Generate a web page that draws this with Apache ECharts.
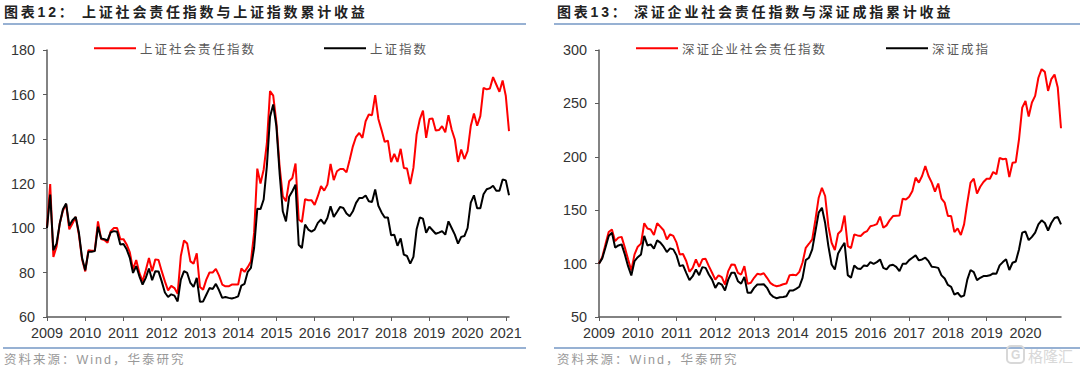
<!DOCTYPE html>
<html>
<head>
<meta charset="utf-8">
<style>
  html, body { margin: 0; background: #fff; }
  #main { width: 1080px; height: 370px; }
  /* zrender has no letterSpacing, the svg text picks it up from css */
  #main text[style*="CJK"] { letter-spacing: 2px; }
  #main text[style*="bold"] { letter-spacing: 2.8px; }
  #main text[style*="15px"] { letter-spacing: 0; }
</style>
</head>
<body>
<div id="main"></div>
<script src="https://cdn.jsdelivr.net/npm/echarts@6/dist/echarts.min.js"></script>
<script>
// 图表12
var shSocial = [100,119.7,87,91.6,102,107.7,110.7,99.4,102,105,97,86,80.5,90,89.8,89.8,103,95,94.6,93.4,98.6,100,100,95,95,92.6,89,81.4,85.6,79.8,76,81,86.5,80.6,85.9,85.6,80.6,76,72,74,73,70.5,87.4,94.4,93,85,84,88.6,73.5,72.3,76.8,80,80,81.6,78.6,74.6,73.8,73.8,74.6,74.6,74.6,81.8,80.3,82.4,85,97.8,126.7,120,126.2,138,161.5,159.5,147.2,127.7,114.3,112,121,122.5,129,103.8,102.7,113,112.5,112.5,110.4,114.3,118.8,116.8,119.5,128.8,121.5,125.5,126.5,126.5,125,130.7,136.7,141,142.7,140.5,148,151,150.7,159.7,149,144,138.7,139.3,129.6,133.3,129.7,135.6,127,126.7,119.8,127,142,148.8,152.8,140.5,149,149.2,143.8,144,145.8,143,150.7,144.3,139.8,129.7,135.3,131,134.5,145.8,151.5,146,150.3,163,162.3,162.7,167.8,164.5,161.2,166.3,159.3,143.5];
var shIndex = [100,115,90,93,102,108.4,111,101,103.5,105,98,86.6,81,89.3,89.3,89.6,100.6,95.3,95,94.4,98,98.6,98.3,92.6,92.8,90.4,86.6,79.8,82.9,78.3,74.6,77.6,81.8,76.5,80.6,80.5,76,71,69,70.2,69.6,67,76.8,80.6,79.8,75.3,73.5,77.6,66.8,67,70,73,72.6,74.9,72,68.6,69,68.6,68.3,68.7,69.3,74.1,74.9,80.3,82.1,91,108.7,108.5,112.8,127.7,150,155.5,145.7,124.7,107.5,103,114,116.5,119.5,92.5,91,101.5,99.3,98.4,99.3,102.3,103.8,101.8,104.5,109.8,105,107.2,109.5,109,106.5,105.3,107.5,111.3,113.5,113.5,114.6,112,111.7,117.3,110,107,104.7,104.7,96.7,97,92,95.3,88,87.4,84,87,99.4,104.7,104.2,97.9,100.6,99,97.4,97.9,98.6,97,103,100,97,93,96,96.4,100,111.4,114.7,108.9,108.9,115.2,117.4,117.9,119,116.7,116.7,121.8,121.4,114.7];
// 图表13
var szSocial = [100,106,118,129.6,132,121,124.3,125,115,104,93.6,108.6,115.8,118.7,137.8,132.8,132,126.8,137.8,134.6,131.2,122.7,127.4,125.9,119.6,108.6,109,102.4,92.3,96,104,97,104,104.5,97.6,91.4,85,89,87.3,80.4,93,99.2,99,91.4,89.8,97.6,81,82,86.7,90.4,89.8,91,86.7,82,79.8,78.8,79.5,80.7,81.3,89.2,89.5,89,92.3,101,114.8,118.6,122.7,141.4,161.7,171,163.3,135,119.5,112.7,128,131,145,116.4,114.5,127.3,126.4,125.8,128.9,130.5,135,135.8,137,144,133.6,135.8,140.8,144.5,144.8,145,160.8,160,162.7,168,180.5,175.8,182,191.4,182,175.8,167.4,175,160.8,157,144.5,144.5,129.5,133,126.7,136.7,157,175.8,179.5,165.5,172,176.4,179.5,179.5,185.8,183.6,199,197.7,198.3,181,194.5,195,216.4,246,252.3,237.7,250.8,257,274,282,279.5,261.7,272.7,277,264.8,226.7];
var szIndex = [100,104.9,115,125.9,129,115,117,118,108.6,97.6,88.9,102.4,106,108.6,125.9,117,118,114,121.8,119.6,115.8,110.8,114.3,113.3,107.7,97.6,98.6,91.4,84.5,88.2,94.5,89.2,96.7,96,89.8,85,77.3,82,80.4,74.8,85,91.4,91.4,83.5,81.3,87.6,72.6,72.6,77.3,80.4,80.4,80.7,77.3,71.6,68.8,67.6,68.5,68.8,69.4,74.8,74.8,76.4,78.3,86.7,103.3,105.5,113.3,130.5,147.7,152.3,138,116.4,99.2,94.5,109.5,114.8,119.5,89.2,86.7,98.3,95.5,95,98.3,97.7,101.4,99.8,101.4,103.9,96,94.5,98.3,98.9,97,93,99.8,99.8,103.3,105.5,107.7,103,103.9,105.5,102.3,97,96.7,96,89,86,80,78.3,71,72.7,69,70,85,94,92,84.5,86.7,88.3,88.3,89,90.8,90.5,98.3,101.4,104,94,100.8,102,113.3,129,130,122,125,129,136.7,140.5,138,131,138,142.7,143.6,136.7];

var leftTicks = [60, 180, 20];
var rightTicks = [50, 300, 50];

function months(n) {
  var out = [];
  for (var i = 0; i < n; i++) {
    out.push((2009 + Math.floor(i / 12)) + '-' + (i % 12 + 1));
  }
  return out;
}
var leftDates = months(shIndex.length);
var rightDates = months(szIndex.length);

var latin = '"Liberation Sans", Arial, sans-serif';
var cjk = '"Noto Sans CJK SC", sans-serif';
var axisColor = '#5a5a5a';
var ruleColor = '#7497c4';

function xAxis(idx, dates) {
  return {
    type: 'category',
    gridIndex: idx,
    data: dates,
    boundaryGap: false,
    axisLine: { show: true, lineStyle: { color: axisColor, width: 1.5 } },
    axisTick: {
      show: true,
      length: 4,
      lineStyle: { color: axisColor },
      interval: function (i) { return i % 12 === 0; }
    },
    axisLabel: {
      color: '#333',
      fontFamily: latin,
      fontSize: 14.4,
      margin: 9,
      interval: function (i) { return i % 12 === 0; },
      formatter: function (v) { return v.split('-')[0]; }
    }
  };
}

function yAxis(idx, t) {
  return {
    type: 'value',
    gridIndex: idx,
    min: t[0],
    max: t[1],
    interval: t[2],
    splitLine: { show: false },
    axisLine: { show: true, lineStyle: { color: axisColor, width: 1.5 } },
    axisTick: { show: true, length: 4, lineStyle: { color: axisColor } },
    axisLabel: { color: '#333', fontFamily: latin, fontSize: 14.4, margin: 12 }
  };
}

function line(name, idx, values, color) {
  return {
    name: name,
    type: 'line',
    xAxisIndex: idx,
    yAxisIndex: idx,
    data: values,
    symbol: 'none',
    silent: true,
    lineStyle: { color: color, width: 2 },
    itemStyle: { color: color }
  };
}

function legend(names, left, gap) {
  return {
    data: names,
    left: left,
    top: 42,
    padding: 0,
    icon: 'rect',
    itemWidth: 42,
    itemHeight: 2,
    itemGap: gap,
    textStyle: { color: '#595959', fontFamily: cjk, fontSize: 12.5, padding: [0, 0, 0, -1] }
  };
}

function text(x, y, str, font, color) {
  return { type: 'text', x: x, y: y, style: { text: str, font: font, fill: color, textVerticalAlign: 'middle' } };
}

function rule(x1, x2, y) {
  return { type: 'line', shape: { x1: x1, y1: y, x2: x2, y2: y }, style: { stroke: ruleColor, lineWidth: 1.5 } };
}

var titleFont = 'bold 14px ' + latin + ', ' + cjk;
var sourceFont = '12.5px ' + latin + ', ' + cjk;

var myChart = echarts.init(document.getElementById('main'), null, { renderer: 'svg' });
myChart.setOption({
  animation: false,
  backgroundColor: '#fff',
  grid: [
    { left: 47, top: 50, width: 462, height: 267 },
    { left: 599, top: 50, width: 462, height: 267 }
  ],
  xAxis: [xAxis(0, leftDates), xAxis(1, rightDates)],
  yAxis: [yAxis(0, leftTicks), yAxis(1, rightTicks)],
  legend: [
    legend(['上证社会责任指数', '上证指数'], 94, 84),
    legend(['深证企业社会责任指数', '深证成指'], 636, 79)
  ],
  series: [
    line('上证社会责任指数', 0, shSocial, '#ff0000'),
    line('上证指数', 0, shIndex, '#000000'),
    line('深证企业社会责任指数', 1, szSocial, '#ff0000'),
    line('深证成指', 1, szIndex, '#000000')
  ],
  graphic: [
    text(4, 12, '图表12：', titleFont, '#222'),
    text(82, 12, '上证社会责任指数与上证指数累计收益', titleFont, '#222'),
    text(557, 12, '图表13：', titleFont, '#222'),
    text(634, 12, '深证企业社会责任指数与深证成指累计收益', titleFont, '#222'),
    rule(3, 526, 24),
    rule(554, 1080, 24),
    rule(3, 526, 348),
    rule(554, 1080, 348),
    text(4, 360, '资料来源：Wind，华泰研究', sourceFont, '#999'),
    text(557, 360, '资料来源：Wind，华泰研究', sourceFont, '#999'),
    { type: 'rect', shape: { x: 1007, y: 346, width: 17, height: 17, r: 4 }, style: { fill: 'none', stroke: '#d8d8d8', lineWidth: 2 } },
    text(1011, 355, 'G', 'bold 12px ' + latin, '#d8d8d8'),
    text(1028, 355, '格隆汇', '15px ' + cjk, '#d8d8d8')
  ]
});
</script>
</body>
</html>
